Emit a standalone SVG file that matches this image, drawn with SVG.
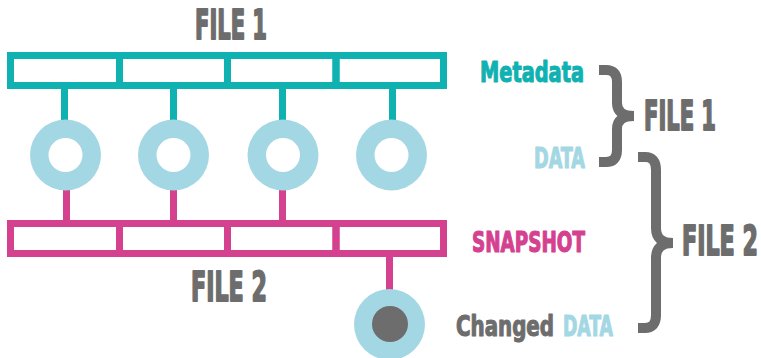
<svg xmlns="http://www.w3.org/2000/svg" width="761" height="358" viewBox="0 0 761 358">
  <style>
    .meta { fill: none; stroke: #10b1b1; stroke-width: 7; }
    .snap { fill: none; stroke: #d4418f; stroke-width: 7; }
    .ring { fill: #a4d7e4; }
    .hole { fill: #ffffff; }
    .dark { fill: #6d6d6d; }
    .brace { fill: none; stroke: #6d6d6d; stroke-width: 10; stroke-linejoin: miter; }
    text { font-family: "DejaVu Sans Condensed", "DejaVu Sans", sans-serif; font-weight: bold; stroke-linejoin: round; }
    .big { font-size: 40px; fill: #6d6d6d; stroke: #6d6d6d; stroke-width: 1.8; }
    .lbl { font-size: 28px; stroke-width: 1.1; }
    .teal { fill: #10b1b1; stroke: #10b1b1; }
    .blue { fill: #a4d7e4; stroke: #a4d7e4; }
    .pink { fill: #d4418f; stroke: #d4418f; }
    .gray { fill: #6d6d6d; stroke: #6d6d6d; }
  </style>

  <!-- connectors -->
  <g id="connectors">
    <line class="meta" x1="64.5" y1="88" x2="64.5" y2="122"/>
    <line class="meta" x1="173.5" y1="88" x2="173.5" y2="122"/>
    <line class="meta" x1="282.5" y1="88" x2="282.5" y2="122"/>
    <line class="meta" x1="392.5" y1="88" x2="392.5" y2="122"/>
    <line class="snap" x1="66.5" y1="188" x2="66.5" y2="221"/>
    <line class="snap" x1="173.5" y1="188" x2="173.5" y2="221"/>
    <line class="snap" x1="282.5" y1="188" x2="282.5" y2="221"/>
    <line class="snap" x1="389.5" y1="256" x2="389.5" y2="292"/>
  </g>

  <!-- metadata blocks (file 1) -->
  <g id="meta-1"><rect class="meta" x="10.5" y="55.5" width="109" height="30"/></g>
  <g id="meta-2"><rect class="meta" x="119.5" y="55.5" width="108" height="30"/></g>
  <g id="meta-3"><rect class="meta" x="227.5" y="55.5" width="108.5" height="30"/></g>
  <g id="meta-4"><rect class="meta" x="336" y="55.5" width="107.5" height="30"/></g>

  <!-- data blocks -->
  <g id="data-1"><circle class="ring" cx="65.5" cy="155" r="35.5"/><circle class="hole" cx="65.5" cy="155" r="17"/></g>
  <g id="data-2"><circle class="ring" cx="173.5" cy="155" r="35.5"/><circle class="hole" cx="173.5" cy="155" r="17"/></g>
  <g id="data-3"><circle class="ring" cx="283" cy="155" r="35.5"/><circle class="hole" cx="283" cy="155" r="17"/></g>
  <g id="data-4"><circle class="ring" cx="391.5" cy="155" r="35.5"/><circle class="hole" cx="391.5" cy="155" r="17"/></g>

  <!-- snapshot blocks (file 2) -->
  <g id="snap-1"><rect class="snap" x="10.5" y="223.5" width="109" height="30"/></g>
  <g id="snap-2"><rect class="snap" x="119.5" y="223.5" width="108" height="30"/></g>
  <g id="snap-3"><rect class="snap" x="227.5" y="223.5" width="108.5" height="30"/></g>
  <g id="snap-4"><rect class="snap" x="336" y="223.5" width="107.5" height="30"/></g>

  <!-- changed data block -->
  <g id="changed-data"><circle class="ring" cx="389.5" cy="324.5" r="35.5"/><circle class="dark" cx="390" cy="324" r="18"/></g>

  <!-- titles (condensed by horizontal scaling) -->
  <g id="title-file1"><text class="big" transform="translate(195,39) scale(0.6,1)" textLength="120" lengthAdjust="spacingAndGlyphs">FILE 1</text></g>
  <g id="title-file2"><text class="big" transform="translate(191,301) scale(0.633,1)" textLength="120" lengthAdjust="spacingAndGlyphs">FILE 2</text></g>

  <!-- legend -->
  <g id="legend">
    <text class="lbl teal" transform="translate(480,82) scale(0.788,1)" textLength="132" lengthAdjust="spacingAndGlyphs">Metadata</text>
    <text class="lbl blue" transform="translate(534,168) scale(0.662,1)" textLength="77" lengthAdjust="spacingAndGlyphs">DATA</text>
    <text class="lbl pink" transform="translate(472,252) scale(0.729,1)" textLength="155" lengthAdjust="spacingAndGlyphs">SNAPSHOT</text>
    <text class="lbl gray" transform="translate(456,336) scale(0.784,1)" textLength="125" lengthAdjust="spacingAndGlyphs">Changed</text>
    <text class="lbl blue" transform="translate(563,336) scale(0.649,1)" textLength="77" lengthAdjust="spacingAndGlyphs">DATA</text>
  </g>

  <!-- braces -->
  <g id="brace-file1">
    <path class="brace" d="M599,70 H606 Q617,70 617,82 V103 Q617,116 634,116 Q617,116 617,129 V150 Q617,162 606,162 H599"/>
    <text class="big" transform="translate(644,130) scale(0.6,1)" textLength="120" lengthAdjust="spacingAndGlyphs">FILE 1</text>
  </g>
  <g id="brace-file2">
    <path class="brace" d="M638,157 H645 Q656,157 656,170 V228 Q656,243 673,243 Q656,243 656,258 V315 Q656,328 645,328 H638"/>
    <text class="big" transform="translate(682,255) scale(0.633,1)" textLength="120" lengthAdjust="spacingAndGlyphs">FILE 2</text>
  </g>
</svg>
